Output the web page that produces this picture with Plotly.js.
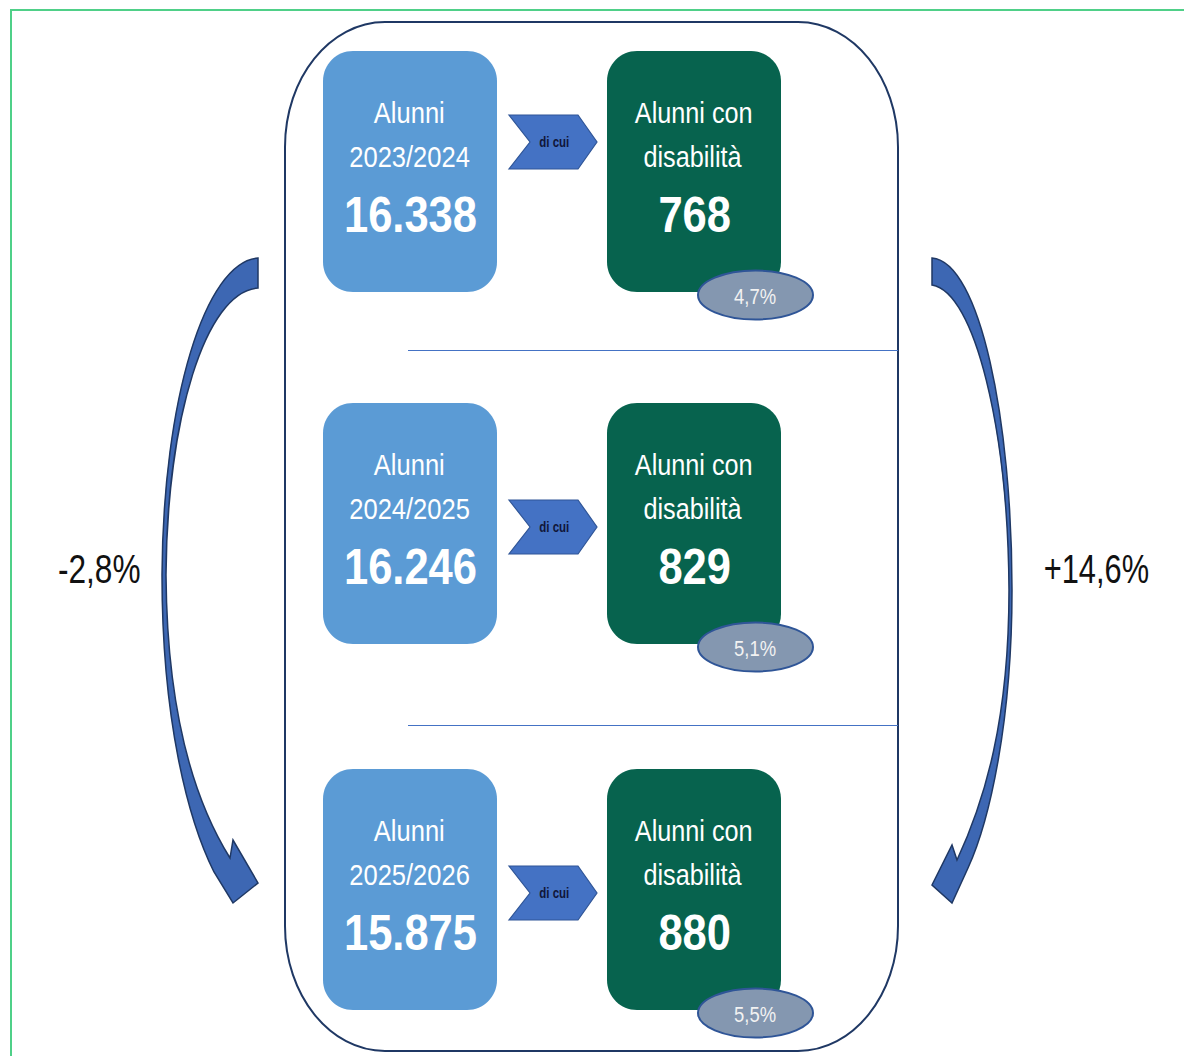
<!DOCTYPE html>
<html><head><meta charset="utf-8">
<script src="https://cdn.plot.ly/plotly-3.0.1.min.js"></script>
<style>html,body{margin:0;padding:0;background:#fff}#chart{width:1184px;height:1056px}
text.annotation-text{transform-box:fill-box;transform-origin:center}</style>
</head><body><div id="chart"></div>
<script>
// ---- data ----
const years = ['2023/2024', '2024/2025', '2025/2026'];
const totalStudents = [16338, 16246, 15875];
const disabledStudents = [768, 829, 880];
const disabledShare = [4.7, 5.1, 5.5];
const totalChange = -2.8;
const disabledChange = 14.6;
const labelTotal = 'Alunni';
const labelDisabled = ['Alunni con', 'disabilità'];
const labelOf = 'di cui';

// ---- helpers ----
function fmtInt(n) { return String(n).replace(/\B(?=(\d{3})+(?!\d))/g, '.'); }
function fmtPct(v, sign) { const s = Math.abs(v).toFixed(1).replace('.', ','); return (v < 0 ? '-' : (sign ? '+' : '')) + s + '%'; }
function rrect(x0, y0, x1, y1, rx, ry) {
  const k = 0.5523;
  return `M ${x0 + rx} ${y0} L ${x1 - rx} ${y0} C ${x1 - rx + rx * k} ${y0}, ${x1} ${y0 + ry - ry * k}, ${x1} ${y0 + ry} ` +
    `L ${x1} ${y1 - ry} C ${x1} ${y1 - ry + ry * k}, ${x1 - rx + rx * k} ${y1}, ${x1 - rx} ${y1} ` +
    `L ${x0 + rx} ${y1} C ${x0 + rx - rx * k} ${y1}, ${x0} ${y1 - ry + ry * k}, ${x0} ${y1 - ry} ` +
    `L ${x0} ${y0 + ry} C ${x0} ${y0 + ry - ry * k}, ${x0 + rx - rx * k} ${y0}, ${x0 + rx} ${y0} Z`;
}

const FONT = '"Liberation Sans", Arial, sans-serif';
const shapes = [];
const annotations = [];
const squeeze = [];  // horizontal text compression per annotation (style only)
function addText(x, y, text, size, color, sx) {
  annotations.push({x: x, y: y, text: text, font: {size: size, color: color, family: FONT}});
  squeeze.push(sx);
}

// outer green frame
shapes.push({type: 'rect', x0: 11, y0: 10, x1: 1220, y1: 1100, line: {color: '#4FD088', width: 2}, fillcolor: 'rgba(0,0,0,0)'});
// container
shapes.push({type: 'path', path: rrect(285, 22, 898, 1051, 100, 125), line: {color: '#1F3864', width: 2}, fillcolor: 'rgba(0,0,0,0)'});
// separators
[350.5, 725.5].forEach(y => shapes.push({type: 'line', x0: 408, x1: 898, y0: y, y1: y, line: {color: '#4472C4', width: 1.2}}));

// row layout
const rowTop = [51, 403, 769];
const chevY = [142, 527, 893];
const boxH = 241;

years.forEach((yr, i) => {
  const t = rowTop[i];
  shapes.push({type: 'path', path: rrect(323, t, 497, t + boxH, 30, 30), line: {width: 0}, fillcolor: '#5B9BD5'});
  shapes.push({type: 'path', path: rrect(607, t, 781, t + boxH, 30, 30), line: {width: 0}, fillcolor: '#07634E'});
  const cy = chevY[i];
  shapes.push({type: 'path', path: `M 509 ${cy - 27} L 578 ${cy - 27} L 597 ${cy} L 578 ${cy + 27} L 509 ${cy + 27} L 530 ${cy} Z`,
    line: {color: '#2F5597', width: 1.2}, fillcolor: '#4472C4'});
  const ey = t + 244;
  shapes.push({type: 'circle', x0: 698, x1: 813, y0: ey - 24.5, y1: ey + 24.5, line: {color: '#2F5597', width: 2}, fillcolor: '#8497B0'});

  addText(409, t + 62, labelTotal, 29, '#FFFFFF', 0.88);
  addText(409, t + 106, yr, 29, '#FFFFFF', 0.88);
  addText(410, t + 164, '<b>' + fmtInt(totalStudents[i]) + '</b>', 50, '#FFFFFF', 0.87);
  addText(693, t + 62, labelDisabled[0], 29, '#FFFFFF', 0.87);
  addText(693, t + 106, labelDisabled[1], 29, '#FFFFFF', 0.87);
  addText(694, t + 164, '<b>' + fmtInt(disabledStudents[i]) + '</b>', 50, '#FFFFFF', 0.87);
  addText(755, ey + 1, fmtPct(disabledShare[i]), 22, '#F2F2F2', 0.84);
  addText(554, cy, '<b>' + labelOf + '</b>', 14, '#10163A', 0.82);
});

// curved arrows
const leftArrow = 'M 258 258 C 205 262, 163 400, 162 575 C 162 720, 188 820, 214 872 L 233 903 L 258 883 L 233 840 L 230 858 ' +
  'C 197 805, 167 720, 166 575 C 167 420, 205 292, 258 288 Z';
const rightArrow = 'M 932 258 C 980 262, 1012 420, 1012 590 C 1012 720, 990 820, 968 868 L 952 903 L 932 885 L 952 845 L 957 860 ' +
  'C 985 800, 1009 720, 1009 590 C 1008 430, 975 292, 932 285 Z';
[leftArrow, rightArrow].forEach(p => shapes.push({type: 'path', path: p, line: {color: '#1F3864', width: 1.5}, fillcolor: '#3D67B3'}));

addText(99, 569, fmtPct(totalChange), 40, '#111111', 0.79);
addText(1096, 569, fmtPct(disabledChange, true), 40, '#111111', 0.77);

annotations.forEach(a => { a.xref = 'x'; a.yref = 'y'; a.showarrow = false; a.xanchor = 'center'; a.yanchor = 'middle'; });

Plotly.newPlot('chart', [{x: [0], y: [0], mode: 'markers', marker: {opacity: 0}, hoverinfo: 'skip', showlegend: false}], {
  width: 1184, height: 1056,
  margin: {l: 0, r: 0, t: 0, b: 0},
  paper_bgcolor: '#FFFFFF', plot_bgcolor: '#FFFFFF',
  xaxis: {range: [0, 1184], visible: false, fixedrange: true},
  yaxis: {range: [1056, 0], visible: false, fixedrange: true},
  shapes: shapes, annotations: annotations, showlegend: false
}, {displayModeBar: false, staticPlot: true}).then(gd => {
  const nodes = gd.querySelectorAll('g.annotation');
  nodes.forEach(g => {
    const idx = +g.getAttribute('data-index');
    const t = g.querySelector('text.annotation-text');
    if (t && squeeze[idx]) t.style.transform = 'scaleX(' + squeeze[idx] + ')';
  });
});
</script></body></html>
